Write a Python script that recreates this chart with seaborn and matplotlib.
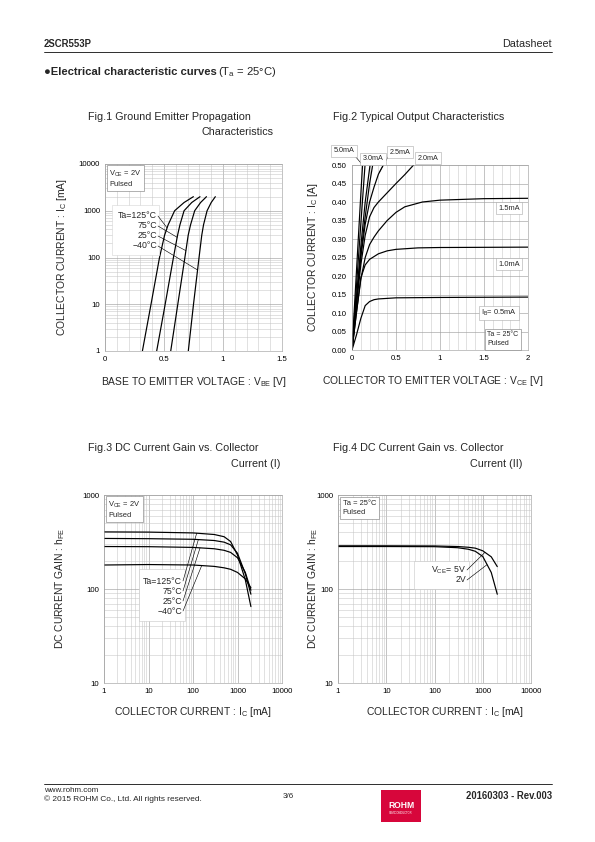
import numpy as np
import seaborn as sns
import matplotlib.pyplot as plt
from matplotlib.lines import Line2D
from matplotlib.patches import Rectangle
from matplotlib.ticker import LogLocator, NullFormatter, MultipleLocator

W, H = 595, 842

# Fig.1  IC [mA] vs VBE [V]
ic_fig1 = [1, 10, 100, 300, 500, 1000, 1500, 2000]
vbe_125 = [0.317, 0.39, 0.462, 0.505, 0.535, 0.59, 0.67, 0.749]
vbe_75 = [0.438, 0.51, 0.58, 0.615, 0.635, 0.67, 0.735, 0.805]
vbe_25 = [0.557, 0.617, 0.677, 0.705, 0.725, 0.76, 0.81, 0.86]
vbe_m40 = [0.706, 0.75, 0.797, 0.82, 0.835, 0.865, 0.9, 0.935]
fig1_temps = ["Ta=125°C", "75°C", "25°C", "−40°C"]

# Fig.2  IC [A] vs VCE [V]
vce_05 = [0, 0.05, 0.1, 0.15, 0.2, 0.25, 0.3, 0.5, 1.0, 2.0]
ic_05 = [0, 0.04, 0.085, 0.12, 0.131, 0.136, 0.138, 0.141, 0.142, 0.143]
vce_10 = [0, 0.05, 0.1, 0.15, 0.2, 0.3, 0.4, 0.5, 0.75, 1.0, 2.0]
ic_10 = [0, 0.1, 0.195, 0.23, 0.245, 0.26, 0.268, 0.272, 0.276, 0.277, 0.278]
vce_15 = [0, 0.05, 0.1, 0.15, 0.2, 0.25, 0.3, 0.4, 0.5, 0.6, 0.8, 1.0, 1.5, 2.0]
ic_15 = [0, 0.1, 0.19, 0.25, 0.285, 0.305, 0.322, 0.35, 0.372, 0.387, 0.4, 0.405, 0.409, 0.41]
vce_20 = [0, 0.05, 0.1, 0.15, 0.2, 0.25, 0.3, 0.4, 0.5, 0.6, 0.7]
ic_20 = [0, 0.12, 0.23, 0.31, 0.36, 0.385, 0.4, 0.425, 0.45, 0.474, 0.5]
vce_25 = [0, 0.05, 0.1, 0.15, 0.2, 0.25, 0.3, 0.356]
ic_25 = [0, 0.13, 0.25, 0.34, 0.4, 0.44, 0.475, 0.5]
vce_30 = [0, 0.05, 0.1, 0.15, 0.2, 0.235]
ic_30 = [0, 0.13, 0.26, 0.36, 0.45, 0.5]
vce_35 = [0, 0.05, 0.1, 0.15, 0.205]
ic_35 = [0, 0.14, 0.28, 0.4, 0.5]
vce_40 = [0, 0.05, 0.1, 0.148]
ic_40 = [0, 0.17, 0.34, 0.5]
vce_50 = [0, 0.05, 0.1, 0.12]
ic_50 = [0, 0.21, 0.42, 0.5]

# Fig.3  hFE vs IC [mA], VCE = 2V
ic_fig3 = [1, 10, 100, 300, 500, 700, 1000, 1500, 2000]
hfe_125 = [405, 403, 395, 380, 360, 320, 230, 125, 65]
hfe_75 = [345, 343, 338, 328, 315, 295, 240, 145, 88]
hfe_25 = [283, 282, 277, 268, 258, 245, 215, 150, 97]
hfe_m40 = [180, 182, 180, 174, 168, 162, 150, 128, 103]

# Fig.4  hFE vs IC [mA], Ta = 25C
ic_fig4 = [1, 10, 100, 300, 500, 700, 1000, 1500, 2000]
hfe_5v = [288, 288, 287, 283, 278, 272, 255, 220, 173]
hfe_2v = [283, 283, 282, 275, 265, 252, 222, 150, 88]

sns.set_theme(style="white")
plt.rcParams['font.family'] = ['Liberation Sans', 'DejaVu Sans']
plt.rcParams['mathtext.fontset'] = 'custom'
plt.rcParams['mathtext.rm'] = 'Liberation Sans'
plt.rcParams['mathtext.it'] = 'Liberation Sans:italic'
plt.rcParams['mathtext.bf'] = 'Liberation Sans:bold'

fig = plt.figure(figsize=(W / 72, H / 72), dpi=72)


def rect(x0, y0, x1, y1):
    return [x0 / W, 1 - y1 / H, (x1 - x0) / W, (y1 - y0) / H]


def fx(x, y):
    return x / W, 1 - y / H


def style_axes(ax):
    ax.grid(True, which='major', color='#9e9e9e', lw=0.6)
    ax.grid(True, which='minor', color='#c4c4c4', lw=0.5)
    ax.tick_params(which='both', length=0, labelsize=7.8, pad=5, colors='black')
    for s in ax.spines.values():
        s.set_color('#9e9e9e')
        s.set_linewidth(0.6)
    ax.set_axisbelow(True)


def log_axis(axis, lo, hi):
    vals = [10 ** k for k in range(int(np.log10(lo)), int(np.log10(hi)) + 1)]
    axis.set_ticks(vals, labels=[str(v) for v in vals])
    axis.set_minor_locator(LogLocator(base=10, subs=range(2, 10)))
    axis.set_minor_formatter(NullFormatter())


def curve(ax, x, y):
    sns.lineplot(x=x, y=y, ax=ax, color='black', linewidth=1.2,
                 estimator=None, sort=False, legend=False)


def note(ax, xy, text):
    ax.annotate(text, xy=xy, xycoords='axes fraction', ha='left', va='top', fontsize=7.5,
                linespacing=1.45, annotation_clip=False,
                bbox=dict(boxstyle='square,pad=0.35', fc='white', ec='#808080', lw=0.6))


def axis_labels(ax, xl, yl, xpos, ypos):
    ax.set_xlabel(xl, fontsize=10.3)
    ax.set_ylabel(yl, fontsize=10.3)
    ax.xaxis.set_label_coords(*xpos)
    ax.yaxis.set_label_coords(*ypos)
    ax.xaxis.label.set_va('center')
    ax.yaxis.label.set_va('center')


def leader(ax, start_fig, end_data):
    ax.annotate('', xy=end_data, xycoords='data', xytext=start_fig,
                textcoords='figure fraction', annotation_clip=False,
                arrowprops=dict(arrowstyle='-', color='black', lw=0.6, shrinkA=0, shrinkB=0))


# ---------------- Fig.1 ----------------
ax1 = fig.add_axes(rect(105, 164, 282, 351))
for v in [vbe_125, vbe_75, vbe_25, vbe_m40]:
    curve(ax1, v, ic_fig1)
ax1.set_yscale('log')
ax1.set_xlim(0, 1.5)
ax1.set_ylim(1, 10000)
log_axis(ax1.yaxis, 1, 10000)
ax1.set_xticks([0, 0.5, 1, 1.5], labels=['0', '0.5', '1', '1.5'])
ax1.xaxis.set_minor_locator(MultipleLocator(0.1))
style_axes(ax1)
axis_labels(ax1, r'BASE TO EMITTER VOLTAGE : V$_{\mathrm{BE}}$ [V]',
            r'COLLECTOR CURRENT : I$_{\mathrm{C}}$ [mA]', (0.5, -0.165), (-0.245, 0.5))
note(ax1, (0.025, 0.975), 'V$_{\\mathrm{CE}}$ = 2V\nPulsed')
ax1.add_patch(Rectangle(fx(112, 255), 47 / W, 50 / H, transform=fig.transFigure,
                        fc='white', ec='#d0d0d0', lw=0.5, zorder=2))
for k, (lab, v, i_end) in enumerate(zip(fig1_temps, [vbe_125, vbe_75, vbe_25, vbe_m40],
                                          [430, 270, 140, 54])):
    ty = 216 + 10 * k
    fig.text(*fx(157, ty), lab, ha='right', va='center', fontsize=8.8)
    v_end = np.interp(np.log10(i_end), np.log10(ic_fig1), v)
    leader(ax1, fx(158, ty), (v_end, i_end))

# ---------------- Fig.2 ----------------
ax2 = fig.add_axes(rect(352, 165, 528, 350))
for v, i in [(vce_05, ic_05), (vce_10, ic_10), (vce_15, ic_15), (vce_20, ic_20),
             (vce_25, ic_25), (vce_30, ic_30), (vce_35, ic_35), (vce_40, ic_40), (vce_50, ic_50)]:
    curve(ax2, v, i)
ax2.set_xlim(0, 2)
ax2.set_ylim(0, 0.5)
ax2.set_xticks([0, 0.5, 1, 1.5, 2], labels=['0', '0.5', '1', '1.5', '2'])
ax2.xaxis.set_minor_locator(MultipleLocator(0.1))
yt = np.round(np.arange(0, 0.501, 0.05), 2)
ax2.set_yticks(yt, labels=[f'{t:.2f}' for t in yt])
style_axes(ax2)
axis_labels(ax2, r'COLLECTOR TO EMITTER VOLTAGE : V$_{\mathrm{CE}}$ [V]',
            r'COLLECTOR CURRENT : I$_{\mathrm{C}}$ [A]', (0.46, -0.17), (-0.222, 0.5))
box = dict(boxstyle='square,pad=0.3', fc='white', ec='#a0a0a0', lw=0.5)
for lab, xy in [('1.5mA', (509, 208)), ('1.0mA', (509, 264)),
                (r'I$_{\mathrm{B}}$= 0.5mA', (499, 313))]:
    fig.text(*fx(*xy), lab, ha='center', va='center', fontsize=7.5, bbox=box)
fig.text(*fx(487, 331), 'Ta = 25°C\nPulsed', ha='left', va='top', fontsize=7,
         linespacing=1.45, bbox=dict(boxstyle='square,pad=0.35', fc='white', ec='#808080', lw=0.6))
for lab, xy in [('5.0mA', (344, 151)), ('3.0mA', (373, 159)),
                ('2.5mA', (400, 152)), ('2.0mA', (428, 158))]:
    fig.text(*fx(*xy), lab, ha='center', va='center', fontsize=7.2, bbox=box)
leader(ax2, fx(355, 156), (vce_50[-1], ic_50[-1]))
leader(ax2, fx(388, 157), (vce_25[-2] + 0.01, 0.48))

# ---------------- Fig.3 ----------------
ax3 = fig.add_axes(rect(104, 495, 282, 683))
for h in [hfe_125, hfe_75, hfe_25, hfe_m40]:
    curve(ax3, ic_fig3, h)
ax3.set_xscale('log')
ax3.set_yscale('log')
ax3.set_xlim(1, 10000)
ax3.set_ylim(10, 1000)
log_axis(ax3.xaxis, 1, 10000)
log_axis(ax3.yaxis, 10, 1000)
style_axes(ax3)
axis_labels(ax3, r'COLLECTOR CURRENT : I$_{\mathrm{C}}$ [mA]',
            r'DC CURRENT GAIN : h$_{\mathrm{FE}}$', (0.5, -0.155), (-0.245, 0.5))
note(ax3, (0.025, 0.975), 'V$_{\\mathrm{CE}}$ = 2V\nPulsed')
ax3.add_patch(Rectangle(fx(139, 621), 46 / W, 52 / H, transform=fig.transFigure,
                        fc='white', ec='#c0c0c0', lw=0.5, zorder=2))
for k, (lab, h, i_end) in enumerate(zip(fig1_temps, [hfe_125, hfe_75, hfe_25, hfe_m40],
                                          [121, 132, 144, 157])):
    ty = 581 + 10 * k
    fig.text(*fx(182, ty), lab, ha='right', va='center', fontsize=8.8)
    h_end = 10 ** np.interp(np.log10(i_end), np.log10(ic_fig3), np.log10(h))
    leader(ax3, fx(183, ty), (i_end, h_end))

# ---------------- Fig.4 ----------------
ax4 = fig.add_axes(rect(338, 495, 531, 683))
for h in [hfe_5v, hfe_2v]:
    curve(ax4, ic_fig4, h)
ax4.set_xscale('log')
ax4.set_yscale('log')
ax4.set_xlim(1, 10000)
ax4.set_ylim(10, 1000)
log_axis(ax4.xaxis, 1, 10000)
log_axis(ax4.yaxis, 10, 1000)
style_axes(ax4)
axis_labels(ax4, r'COLLECTOR CURRENT : I$_{\mathrm{C}}$ [mA]',
            r'DC CURRENT GAIN : h$_{\mathrm{FE}}$', (0.555, -0.155), (-0.13, 0.5))
note(ax4, (0.025, 0.975), 'Ta = 25°C\nPulsed')
ax4.add_patch(Rectangle(fx(414, 589), 55 / W, 28 / H, transform=fig.transFigure,
                        fc='white', ec='#c0c0c0', lw=0.5, zorder=2))
for k, (lab, h, i_end) in enumerate(zip([r'V$_{\mathrm{CE}}$= 5V', '2V'], [hfe_5v, hfe_2v],
                                          [1110, 1230])):
    ty = 570 + 10 * k
    fig.text(*fx(466, ty), lab, ha='right', va='center', fontsize=8.8)
    h_end = 10 ** np.interp(np.log10(i_end), np.log10(ic_fig4), np.log10(h))
    leader(ax4, fx(467, ty), (i_end, h_end))

# ---------------- titles ----------------
tkw = dict(fontsize=10.8, va='center')
fig.text(*fx(88, 117), 'Fig.1 Ground Emitter Propagation', ha='left', **tkw)
fig.text(*fx(273, 132), 'Characteristics', ha='right', **tkw)
fig.text(*fx(333, 117), 'Fig.2 Typical Output Characteristics', ha='left', **tkw)
fig.text(*fx(88, 448), 'Fig.3 DC Current Gain vs. Collector', ha='left', **tkw)
fig.text(*fx(280, 464), 'Current (I)', ha='right', **tkw)
fig.text(*fx(333, 448), 'Fig.4 DC Current Gain vs. Collector', ha='left', **tkw)
fig.text(*fx(522, 464), 'Current (II)', ha='right', **tkw)

# ---------------- page header / footer ----------------
fig.text(*fx(44, 44), '2SCR553P', ha='left', va='center', fontsize=9.5, weight='bold')
fig.text(*fx(552, 44), 'Datasheet', ha='right', va='center', fontsize=10.8)
fig.add_artist(Line2D([44 / W, 552 / W], [1 - 52 / H] * 2, color='black', lw=0.8))
fig.text(*fx(44, 72), '●Electrical characteristic curves', ha='left', va='center',
         fontsize=11.2, weight='bold')
fig.text(*fx(218, 72), '(T$_{\\mathrm{a}}$ = 25°C)', ha='left', va='center', fontsize=11.2)

fig.add_artist(Line2D([44 / W, 552 / W], [1 - 784 / H] * 2, color='black', lw=0.8))
fig.text(*fx(44, 790), 'www.rohm.com', ha='left', va='center', fontsize=8)
fig.text(*fx(44, 799), '© 2015 ROHM Co., Ltd. All rights reserved.', ha='left', va='center', fontsize=8.2)
fig.text(*fx(283, 796), '3/6', ha='left', va='center', fontsize=8)
fig.add_artist(Rectangle(fx(381, 822), 40 / W, 32 / H, transform=fig.transFigure,
                         fc='#d7063b', ec='none'))
fig.text(*fx(401, 805), 'ROHM', ha='center', va='center', fontsize=8.5, weight='bold', color='white')
fig.text(*fx(401, 813), 'SEMICONDUCTOR', ha='center', va='center', fontsize=2.6, color='white')
fig.text(*fx(552, 796), '20160303 - Rev.003', ha='right', va='center', fontsize=9.5, weight='bold')

fig.savefig('out.png', dpi=72)
